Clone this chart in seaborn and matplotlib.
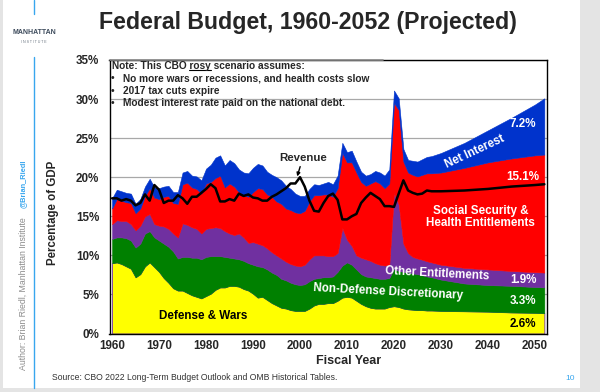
import matplotlib
matplotlib.use("Agg")
import matplotlib.pyplot as plt
import seaborn as sns
from matplotlib.patches import Rectangle
from matplotlib.lines import Line2D

# ---------------- data (percent of GDP) ----------------
years = list(range(1960, 2024)) + [2024, 2025, 2026, 2027, 2028, 2030, 2035, 2040, 2045, 2050, 2052]

defense = [9.0, 9.1, 8.9, 8.6, 8.3, 7.2, 7.6, 8.6, 9.1, 8.5,
           7.9, 7.1, 6.5, 5.8, 5.5, 5.5, 5.2, 4.9, 4.7, 4.5,
           4.8, 5.1, 5.6, 5.9, 5.9, 6.1, 6.1, 6.0, 5.7, 5.5,
           5.1, 4.6, 4.7, 4.3, 3.9, 3.6, 3.3, 3.2, 3.0, 2.9,
           2.9, 2.9, 3.2, 3.6, 3.8, 3.8, 3.9, 3.9, 4.2, 4.6,
           4.7, 4.6, 4.2, 3.8, 3.5, 3.3, 3.2, 3.2, 3.2, 3.4,
           3.5, 3.4, 3.2, 3.1,
           3.05, 3.0, 3.0, 2.95, 2.95, 2.9, 2.85, 2.8, 2.7, 2.65, 2.6]

nondefense = [3.1, 3.2, 3.4, 3.6, 3.6, 3.8, 3.9, 4.2, 4.0, 3.8,
              4.0, 4.4, 4.6, 4.7, 4.1, 4.3, 4.6, 4.8, 5.0, 5.0,
              5.0, 4.8, 4.3, 4.0, 3.9, 3.6, 3.5, 3.5, 3.6, 3.5,
              3.7, 4.0, 3.8, 3.9, 3.9, 3.9, 3.7, 3.6, 3.5, 3.4,
              3.3, 3.4, 3.5, 3.4, 3.3, 3.4, 3.3, 3.4, 3.7, 4.1,
              4.4, 4.2, 4.0, 3.8, 3.8, 3.9, 3.9, 3.8, 3.8, 3.7,
              4.8, 4.6, 4.7, 4.7,
              4.65, 4.6, 4.45, 4.35, 4.25, 4.0, 3.55, 3.4, 3.4, 3.3, 3.3]

other_ent = [1.9, 2.2, 2.1, 2.2, 2.1, 2.2, 2.3, 2.2, 2.2, 1.7,
             1.9, 2.2, 2.3, 2.3, 2.7, 4.3, 4.1, 3.9, 3.7, 3.3,
             3.6, 3.6, 3.7, 3.6, 3.3, 3.1, 3.0, 3.3, 3.0, 2.6,
             2.9, 2.9, 2.8, 2.7, 2.6, 2.5, 2.6, 2.4, 2.4, 2.4,
             2.4, 2.5, 2.8, 3.0, 2.9, 2.8, 2.7, 2.6, 2.4, 4.8,
             2.9, 2.4, 1.8, 2.1, 2.2, 2.1, 1.9, 1.8, 1.7, 1.7,
             9.7, 8.5, 3.6, 2.5,
             2.1, 2.0, 2.0, 1.95, 1.9, 1.9, 2.0, 2.0, 1.9, 1.9, 1.9]

ss_health = [2.0, 2.7, 2.6, 2.4, 2.7, 2.2, 2.2, 2.6, 3.3, 3.4,
             3.4, 3.8, 4.2, 3.9, 4.3, 5.0, 5.4, 5.1, 5.1, 5.1,
             5.8, 5.9, 6.3, 6.7, 5.6, 6.4, 6.2, 5.3, 5.4, 5.9,
             6.4, 7.1, 7.2, 6.9, 7.1, 6.9, 7.0, 6.8, 6.9, 6.8,
             6.8, 6.9, 7.4, 7.7, 7.7, 7.8, 7.9, 7.6, 8.3, 9.6,
             9.9, 10.7, 10.6, 9.7, 9.4, 9.9, 10.5, 10.4, 9.9, 10.4,
             11.5, 12.1, 10.5, 10.3,
             10.5, 10.5, 10.85, 11.25, 11.4, 11.8, 12.8, 13.7, 14.4, 14.95, 15.1]

net_interest = [1.3, 1.2, 1.2, 1.2, 1.2, 1.2, 1.2, 1.2, 1.2, 1.3,
                1.4, 1.3, 1.3, 1.4, 1.5, 1.5, 1.5, 1.5, 1.6, 1.7,
                1.9, 2.2, 2.6, 2.6, 2.8, 3.0, 3.0, 2.9, 2.9, 3.0,
                3.1, 3.1, 3.0, 2.9, 2.8, 3.1, 3.0, 2.9, 2.7, 2.4,
                2.2, 1.9, 1.6, 1.4, 1.3, 1.4, 1.6, 1.6, 1.6, 1.3,
                1.3, 1.5, 1.4, 1.3, 1.3, 1.2, 1.3, 1.4, 1.6, 1.8,
                1.6, 1.5, 1.6, 1.6,
                1.8, 1.9, 2.0, 2.1, 2.2, 2.5, 3.2, 4.1, 5.2, 6.5, 7.2]

revenue = [17.3, 17.3, 17.0, 17.2, 17.0, 16.4, 16.7, 17.8, 17.0, 19.0,
           18.4, 16.7, 17.0, 17.0, 17.7, 17.3, 16.6, 17.5, 17.5, 18.0,
           18.5, 19.1, 18.6, 16.9, 16.9, 17.2, 17.0, 17.9, 17.6, 17.8,
           17.4, 17.3, 17.0, 17.0, 17.5, 17.8, 18.2, 18.6, 19.2, 19.2,
           20.0, 18.8, 17.0, 15.7, 15.6, 16.7, 17.6, 17.9, 17.1, 14.6,
           14.6, 15.0, 15.3, 16.7, 17.4, 18.0, 17.6, 17.2, 16.3, 16.3,
           16.2, 17.9, 19.6, 18.3,
           18.0, 17.8, 17.9, 18.3, 18.2, 18.2, 18.3, 18.5, 18.8, 19.0, 19.1]

xtick_years = [1960, 1970, 1980, 1990, 2000, 2010, 2020, 2030, 2040, 2050]
ytick_vals = [0, 5, 10, 15, 20, 25, 30, 35]
ytick_labels = [f"{v}%" for v in ytick_vals]

end_labels = ["7.2%", "15.1%", "1.9%", "3.3%", "2.6%"]

colors = ["#ffff00", "#008000", "#7030a0", "#ff0000", "#0033cc"]

# ---------------- style ----------------
sns.set_style("white")
plt.rcParams["font.family"] = ["Liberation Sans", "DejaVu Sans"]

W, H = 600, 392
def fx(px):
    return px / W
def fy(py):
    return 1 - py / H

fig = plt.figure(figsize=(6.0, 3.92), dpi=100)
fig.patch.set_facecolor("#e4e4e4")
fig.add_artist(Rectangle((fx(3), fy(388)), (580 - 3) / W, 388 / H,
                         transform=fig.transFigure, facecolor="white",
                         edgecolor="none", zorder=-10))

ax_l, ax_r, ax_t, ax_b = 109.5, 546.7, 60.0, 333.5
ax = fig.add_axes([fx(ax_l), fy(ax_b), (ax_r - ax_l) / W, (ax_b - ax_t) / H])
ax.set_facecolor("white")

polys = ax.stackplot(years, defense, nondefense, other_ent, ss_health, net_interest,
                     colors=colors, edgecolor="face", linewidth=0.4, zorder=2)
polys[0].set_edgecolor("#7030a0")
polys[0].set_linewidth(0.6)

sns.lineplot(x=years, y=revenue, ax=ax, color="black", linewidth=1.8, zorder=4)

ax.set_xlim(1959.45, 2052.5)
ax.set_ylim(0, 35)
ax.set_xticks(xtick_years)
ax.set_xticks(list(range(1960, 2053)), minor=True)
ax.set_xticklabels([str(y) for y in xtick_years])
ax.set_yticks(ytick_vals)
ax.set_yticklabels(ytick_labels)
ax.tick_params(axis="x", which="major", length=4, width=0.8, direction="out",
               pad=0.8, labelsize=8.4, color="black")
ax.tick_params(axis="x", which="minor", length=2.5, width=0.6, direction="out", color="#333333")
ax.tick_params(axis="y", which="major", length=4, width=0.8, direction="out",
               pad=3.5, labelsize=8.4, color="black")
for lbl in ax.get_xticklabels() + ax.get_yticklabels():
    lbl.set_fontweight("bold")
ax.set_xlabel("")
ax.set_ylabel("")
ax.yaxis.grid(True, color="#a8a8a8", linewidth=0.9)
ax.xaxis.grid(False)
ax.set_axisbelow(True)
for s in ax.spines.values():
    s.set_visible(True)
    s.set_color("black")
    s.set_linewidth(1.0)
ax.add_line(Line2D([0, (383 - ax_l) / (ax_r - ax_l)], [1, 1], transform=ax.transAxes,
                   color="#8a8a8a", linewidth=1.2, clip_on=False, zorder=6))

# ---------------- in-chart labels ----------------
bold = dict(fontweight="bold", ha="center", va="center")
ax.text(1979.4, 2.2, "Defense & Wars", color="black", fontsize=8.4, zorder=5, **bold)
ax.text(2018.7, 5.3, "Non-Defense Discretionary", color="white", fontsize=8.4,
        rotation=-3, zorder=5, **bold)
ax.text(2029.1, 7.6, "Other Entitlements", color="white", fontsize=8.4,
        rotation=-3, zorder=5, **bold)
ax.text(2038.5, 14.9, "Social Security &\nHealth Entitlements", color="white",
        fontsize=8.4, linespacing=1.05, zorder=5, **bold)
ax.text(2037.2, 23.3, "Net Interest", color="white", fontsize=8.4, rotation=25,
        zorder=5, **bold)
for txt, yv, col in zip(end_labels, [26.8, 20.0, 6.8, 4.2, 1.2],
                        ["white", "white", "white", "white", "black"]):
    ax.text(2047.5, yv, txt, color=col, fontsize=8.4, zorder=5, **bold)

ax.annotate("Revenue", xy=(1999.4, 20.1), xytext=(2000.6, 22.5),
            fontsize=8.2, fontweight="bold", ha="center", va="center", zorder=6,
            arrowprops=dict(arrowstyle="-|>", color="black", lw=1.0,
                            mutation_scale=5, shrinkA=0.5, shrinkB=0))

# ---------------- figure texts ----------------
fig.text(fx(308), fy(28.7), "Federal Budget, 1960-2052 (Projected)",
         ha="center", va="baseline", fontsize=16.7, fontweight="bold")
fig.text(fx(53.3), fy(212.7), "Percentage of GDP", rotation=90, ha="center",
         va="center", fontsize=8.3, fontweight="bold")
fig.text(fx(348.8), fy(363.5), "Fiscal Year", ha="center", va="baseline",
         fontsize=9, fontweight="bold")
fig.text(fx(51.7), fy(377.5), "Source: CBO 2022 Long-Term Budget Outlook and OMB Historical Tables.",
         ha="left", va="center", fontsize=6.2, color="#333333")
fig.text(fx(570), fy(378), "10", ha="center", va="center", fontsize=6, color="#38a6ee")

# note block with underlined "rosy"
note_x = fx(111.7)
note_fs = 7.3
line1 = "Note: This CBO rosy scenario assumes:"
fig.text(note_x, fy(68.6), line1, ha="left", va="baseline",
         fontsize=note_fs, fontweight="bold")
bullets = ["No more wars or recessions, and health costs slow",
           "2017 tax cuts expire",
           "Modest interest rate paid on the national debt."]
for i, b in enumerate(bullets):
    base = [81.3, 93.6, 105.9][i]
    fig.text(fx(110.5), fy(base), "\u2022", ha="left", va="baseline",
             fontsize=note_fs, fontweight="bold")
    fig.text(fx(123.3), fy(base), b, ha="left", va="baseline",
             fontsize=note_fs, fontweight="bold")

renderer = fig.canvas.get_renderer()
def text_w(s):
    t = fig.text(0, 0, s, fontsize=note_fs, fontweight="bold")
    w = t.get_window_extent(renderer=renderer).width
    t.remove()
    return w
w_sp = text_w("a a") - text_w("aa")
u0 = 111.7 + text_w("Note: This CBO") + w_sp
u1 = 111.7 + text_w("Note: This CBO rosy") + 1
fig.add_artist(Line2D([fx(u0), fx(u1)], [fy(70.2), fy(70.2)], color="black", lw=0.8))

# slide decorations
fig.add_artist(Line2D([fx(34), fx(34)], [fy(0), fy(14)], color="#38a6ee", lw=1.0))
fig.add_artist(Line2D([fx(34), fx(34)], [fy(57), fy(388)], color="#38a6ee", lw=1.0))
fig.text(fx(34), fy(32.5), "MANHATTAN", ha="center", va="center", fontsize=5.0,
         fontweight="bold", color="#3d4b5c")
fig.text(fx(34), fy(42), "I N S T I T U T E", ha="center", va="center", fontsize=2.6,
         color="#6a7480")
fig.text(fx(23), fy(370), "Author: Brian Riedl, Manhattan Institute", rotation=90,
         ha="center", va="bottom", fontsize=6.3, color="#8c8c8c")
fig.text(fx(23), fy(208), "@Brian_Riedl", rotation=90, ha="center", va="bottom",
         fontsize=5.3, fontweight="bold", color="#38a6ee")

fig.savefig("out.png", dpi=100, facecolor=fig.get_facecolor())
